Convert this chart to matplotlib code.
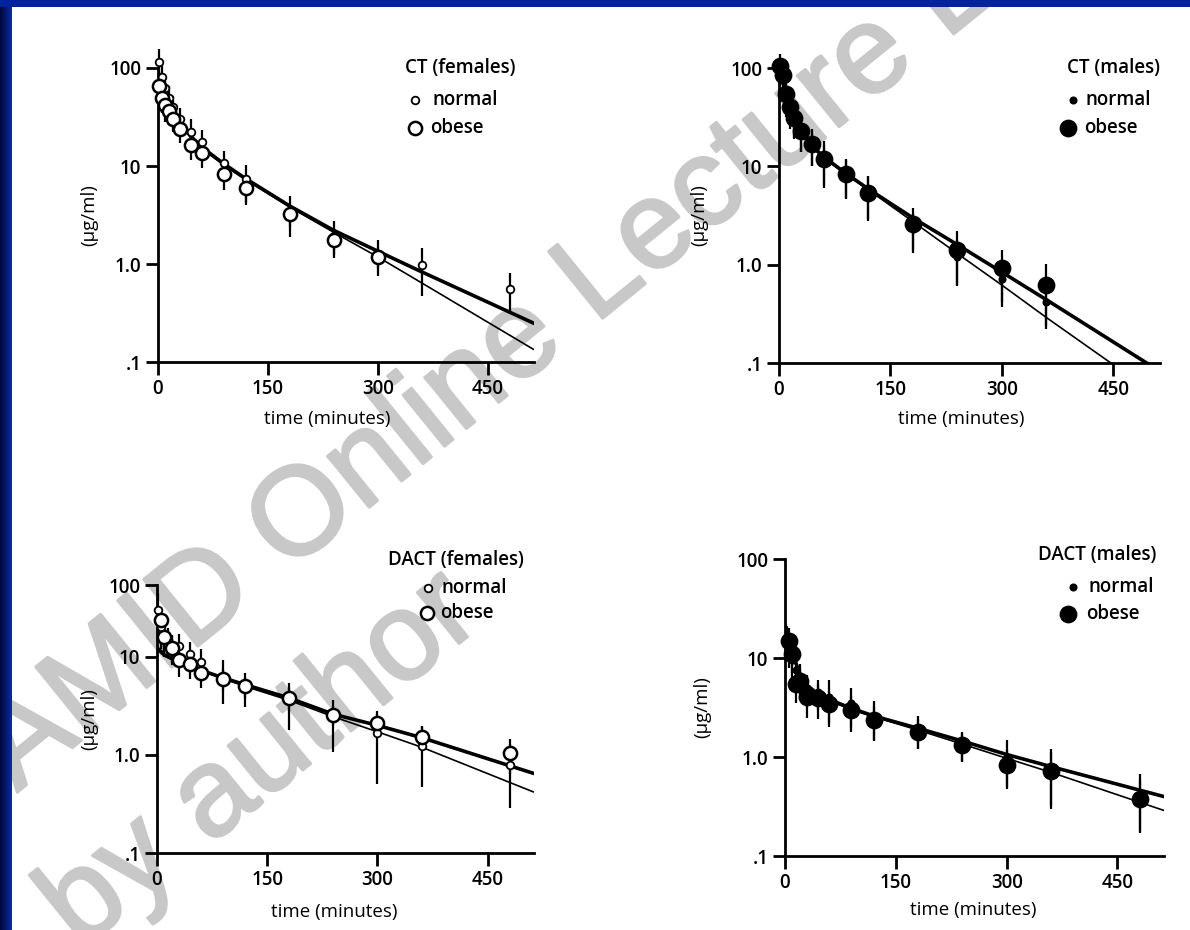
import numpy as np
import matplotlib.pyplot as plt
import matplotlib.patheffects as pe
from matplotlib.patches import Rectangle
from matplotlib.colors import LinearSegmentedColormap

plt.rcParams['font.family'] = ['Open Sans', 'DejaVu Sans']
plt.rcParams['font.weight'] = 'semibold'

# ---- CT, females (time in minutes, concentration in ug/ml) ----
ct_f_normal_t = [2, 5, 10, 15, 20, 30, 45, 60, 90, 120, 180, 240, 300, 360, 480]
ct_f_normal_v = [115, 80, 62, 50, 40, 30, 22, 17.5, 10.8, 7.3, 3.4, 1.95, 1.26, 0.97, 0.56]
ct_f_normal_sd = [40, 25, 20, 15, 12, 9, 8, 6, 3.5, 3.0, 1.5, 0.8, 0.5, 0.5, 0.25]
ct_f_obese_t = [2, 5, 10, 15, 20, 30, 45, 60, 90, 120, 180, 240, 300]
ct_f_obese_v = [65, 50, 42, 36, 30, 24, 16.5, 13.5, 8.2, 6.0, 3.2, 1.75, 1.18]
ct_f_obese_sd = [20, 15, 14, 10, 8, 7, 5, 4, 2.5, 2.0, 0.8, 0.5, 0.3]

# ---- CT, males ----
ct_m_normal_t = [2, 5, 10, 15, 20, 30, 45, 60, 90, 120, 180, 240, 300, 360]
ct_m_normal_v = [95, 75, 50, 36, 29, 21, 16, 11.5, 8.2, 5.3, 2.3, 1.2, 0.72, 0.42]
ct_m_normal_sd = [30, 25, 18, 12, 10, 7, 6, 5, 3.5, 2.5, 1.0, 0.6, 0.35, 0.18]
ct_m_obese_t = [2, 5, 10, 15, 20, 30, 45, 60, 90, 120, 180, 240, 300, 360]
ct_m_obese_v = [105, 85, 55, 40, 31, 23, 17, 12, 8.3, 5.4, 2.6, 1.42, 0.92, 0.62]
ct_m_obese_sd = [35, 25, 18, 14, 11, 9, 7, 6, 3.5, 2.5, 1.2, 0.8, 0.5, 0.4]

# ---- DACT, females ----
dact_f_normal_t = [2, 5, 10, 15, 20, 30, 45, 60, 90, 120, 180, 240, 300, 360, 480]
dact_f_normal_v = [30, 20, 16, 14.8, 12.6, 13, 10.8, 8.9, 6.3, 5.0, 3.6, 2.36, 1.66, 1.22, 0.79]
dact_f_normal_sd = [15, 8, 6, 5, 4, 4, 3.5, 3, 3, 1.9, 1.8, 1.3, 1.15, 0.75, 0.5]
dact_f_obese_t = [5, 10, 20, 30, 45, 60, 90, 120, 180, 240, 300, 360, 480]
dact_f_obese_v = [24, 16, 12.2, 9.2, 8.5, 6.8, 6.0, 5.0, 3.8, 2.55, 2.1, 1.53, 1.04]
dact_f_obese_sd = [8, 5, 4, 3, 2.5, 2, 1.5, 1.2, 1.0, 0.6, 0.5, 0.4, 0.4]

# ---- DACT, males ----
dact_m_normal_t = [2, 5, 10, 15, 20, 30, 45, 60, 90, 120, 180, 240, 300, 360, 480]
dact_m_normal_v = [16, 13, 9.5, 7.5, 6.5, 5.0, 4.5, 4.0, 3.5, 2.6, 1.9, 1.35, 1.0, 0.75, 0.42]
dact_m_normal_sd = [6, 5, 3.5, 2.5, 2.2, 1.8, 1.5, 2.0, 1.5, 1.1, 0.7, 0.45, 0.5, 0.45, 0.25]
dact_m_obese_t = [5, 10, 15, 20, 30, 45, 60, 90, 120, 180, 240, 300, 360, 480]
dact_m_obese_v = [15, 11, 5.5, 5.8, 4.0, 3.9, 3.4, 3.0, 2.35, 1.8, 1.32, 0.83, 0.72, 0.38]
dact_m_obese_sd = [5, 4, 2, 2, 1.5, 1.5, 1.2, 1.2, 0.9, 0.6, 0.4, 0.35, 0.4, 0.2]

# ---- fitted curves (thick / thin) ----
fit_t = [2, 10, 20, 30, 45, 60, 90, 120, 180, 240, 300, 360, 512]
ct_f_fit_thick = [85, 55, 38, 28, 20, 15.5, 10.5, 7.4, 3.9, 2.2, 1.35, 0.83, 0.25]
ct_f_fit_thin = [80, 52, 36, 27, 19.5, 15, 10.2, 7.2, 3.8, 2.1, 1.18, 0.64, 0.135]
ct_m_fit_thick = [95, 50, 30, 22, 16, 12.5, 8.5, 5.9, 3.0, 1.6, 0.84, 0.44, 0.083]
ct_m_fit_thin = [92, 48, 29, 21.5, 15.5, 12.2, 8.3, 5.8, 2.75, 1.3, 0.62, 0.29, 0.045]
dact_f_fit_thick = [12, 10.5, 9.6, 8.8, 8.0, 7.3, 6.1, 5.2, 3.8, 2.6, 2.0, 1.5, 0.65]
dact_f_fit_thin = [11.5, 10.2, 9.4, 8.6, 7.8, 7.2, 6.0, 5.0, 3.6, 2.45, 1.72, 1.2, 0.42]
dact_m_fit_thick = [20, 11, 7, 5.3, 4.3, 3.8, 3.1, 2.6, 1.95, 1.45, 1.06, 0.80, 0.40]
dact_m_fit_thin = [19, 10.5, 6.8, 5.2, 4.2, 3.7, 3.0, 2.55, 1.87, 1.35, 0.97, 0.70, 0.29]

W, H = 1190, 930
FS = 13.5
fig = plt.figure(figsize=(W / 100, H / 100), dpi=100)
fig.patch.set_facecolor('white')

# watermark, behind the plots
grey = '#c8c8c8'
wm = dict(color=grey, family='Liberation Sans', fontweight='normal', rotation=39,
          rotation_mode='anchor', ha='center', va='center', zorder=-5,
          path_effects=[pe.withStroke(linewidth=2, foreground=grey)])
fig.text(488 / W, 1 - 370 / H, 'AMID Online Lecture L', fontsize=90, **wm)
fig.text(262 / W, 1 - 762 / H, 'by author', fontsize=90, **wm)


def px_axes(left, right, top, bottom):
    return fig.add_axes([left / W, 1 - bottom / H, (right - left) / W, (bottom - top) / H])


def panel(ax, title, normal, obese, thick, thin, filled, leg, xlab, ylab_pad, top=100):
    nt, nv, nsd = normal
    ot, ov, osd = obese
    ax.set_facecolor('none')
    ax.set_yscale('log')
    ax.set_ylim(0.1, top)
    ax.set_xlim(0, 513)
    ax.plot(fit_t, thick, color='black', lw=2.6, zorder=2)
    ax.plot(fit_t, thin, color='black', lw=1.2, zorder=2)
    for t, v, sd in [(nt, nv, nsd), (ot, ov, osd)]:
        eb = ax.errorbar(t, v, yerr=sd, fmt='none', ecolor='black', elinewidth=1.6, capsize=0, zorder=2)
        for c in eb.lines[2]:
            c.set_clip_on(False)
    face = 'black' if filled else 'white'
    ms_n = 4.5 if filled else 5.5
    ms_o = 11 if filled else 9.5
    ax.plot(nt, nv, 'o', ms=ms_n, mfc=face, mec='black', mew=1.3, clip_on=False, zorder=3)
    ax.plot(ot, ov, 'o', ms=ms_o, mfc=face, mec='black', mew=1.8, clip_on=False, zorder=3)

    for s in ['top', 'right']:
        ax.spines[s].set_visible(False)
    for s in ['left', 'bottom']:
        ax.spines[s].set_linewidth(2)
    ax.set_yticks([0.1, 1, 10, top])
    ax.set_yticklabels(['.1', '1.0', '10', '100'])
    ax.yaxis.set_minor_locator(plt.NullLocator())
    ax.set_xticks([0, 150, 300, 450])
    ax.tick_params(direction='out', length=9, width=2, labelsize=FS, pad=3)
    ax.set_xlabel('time (minutes)', fontsize=FS)
    ax.xaxis.set_label_coords(*xlab)
    ax.set_ylabel('(µg/ml)', fontsize=FS, labelpad=ylab_pad)

    # legend block
    tx, ty, mn, mo, xn, xo, yn, yo = leg
    ax.text(tx, ty, title, transform=ax.transAxes, ha='right', va='center', fontsize=FS)
    ax.plot([mn], [yn], 'o', ms=ms_n, mfc=face, mec='black', mew=1.3,
            transform=ax.transAxes, clip_on=False)
    ax.text(xn, yn, 'normal', transform=ax.transAxes, ha='left', va='center', fontsize=FS)
    ax.plot([mo], [yo], 'o', ms=ms_o, mfc=face, mec='black', mew=1.8,
            transform=ax.transAxes, clip_on=False)
    ax.text(xo, yo, 'obese', transform=ax.transAxes, ha='left', va='center', fontsize=FS)


ax1 = px_axes(158, 534, 68, 362)
panel(ax1, 'CT (females)', (ct_f_normal_t, ct_f_normal_v, ct_f_normal_sd),
      (ct_f_obese_t, ct_f_obese_v, ct_f_obese_sd), ct_f_fit_thick, ct_f_fit_thin, False,
      (0.95, 1.0, 0.684, 0.684, 0.73, 0.725, 0.891, 0.796), (0.45, -0.163), 8)

ax2 = px_axes(779, 1160, 68, 363)
panel(ax2, 'CT (males)', (ct_m_normal_t, ct_m_normal_v, ct_m_normal_sd),
      (ct_m_obese_t, ct_m_obese_v, ct_m_obese_sd), ct_m_fit_thick, ct_m_fit_thin, True,
      (1.0, 1.0, 0.772, 0.759, 0.805, 0.8, 0.892, 0.797), (0.478, -0.16), 16)

ax3 = px_axes(157, 534, 585, 853)
panel(ax3, 'DACT (females)', (dact_f_normal_t, dact_f_normal_v, dact_f_normal_sd),
      (dact_f_obese_t, dact_f_obese_v, dact_f_obese_sd), dact_f_fit_thick, dact_f_fit_thin, False,
      (0.973, 1.093, 0.72, 0.715, 0.755, 0.75, 0.989, 0.896), (0.47, -0.187), 7, top=54)

ax4 = px_axes(785, 1164, 559, 856)
panel(ax4, 'DACT (males)', (dact_m_normal_t, dact_m_normal_v, dact_m_normal_sd),
      (dact_m_obese_t, dact_m_obese_v, dact_m_obese_sd), dact_m_fit_thick, dact_m_fit_thin, True,
      (0.979, 1.013, 0.76, 0.747, 0.8, 0.795, 0.906, 0.815), (0.497, -0.152), 18)

# blue slide frame: top bar and dark gradient on the left edge
fig.patches.append(Rectangle((0, 1 - 7 / H), 1, 7 / H, transform=fig.transFigure,
                             facecolor='#00229c', edgecolor='none', zorder=10))
edge = fig.add_axes([0, 0, 12 / W, 1 - 7 / H], zorder=10)
grad = np.linspace(0, 1, 50).reshape(1, -1)
cmap = LinearSegmentedColormap.from_list('edge', ['#000838', '#0a2aa8'])
edge.imshow(grad, aspect='auto', cmap=cmap)
edge.axis('off')

fig.savefig('out.png', dpi=100, facecolor='white')
